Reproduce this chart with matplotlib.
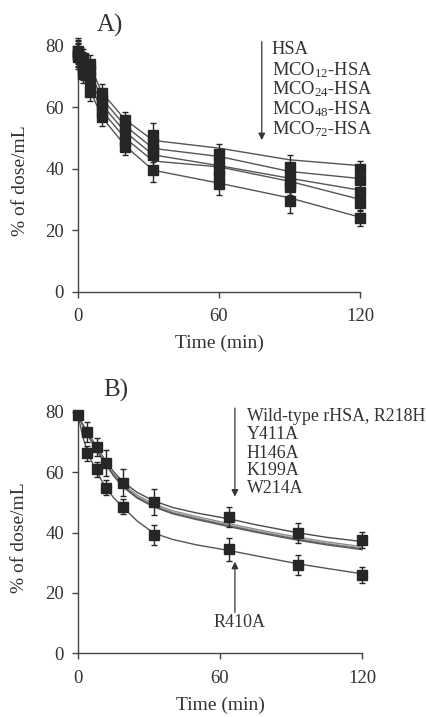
import matplotlib
matplotlib.use("Agg")
import matplotlib.pyplot as plt

plt.rcParams['font.family'] = ['Liberation Serif', 'DejaVu Serif']
plt.rcParams['mathtext.fontset'] = 'custom'
plt.rcParams['mathtext.rm'] = 'Liberation Serif'
plt.rcParams['mathtext.it'] = 'Liberation Serif:italic'

# ---------------- Panel A data ----------------
times_A = [0, 2, 5, 10, 20, 32, 60, 90, 120]
labels_A = ['HSA', 'MCO$_{12}$-HSA', 'MCO$_{24}$-HSA', 'MCO$_{48}$-HSA', 'MCO$_{72}$-HSA']
points_A = [
    [78.5, 76.0, 74.0, 64.5, 56.0, 51.0, 44.7, 40.5, 40.0],
    [78.0, 75.0, 72.0, 62.5, 54.0, 48.3, 42.0, 37.5, 36.2],
    [77.5, 73.0, 70.0, 60.5, 51.5, 46.2, 39.5, 35.5, 32.5],
    [77.0, 72.0, 68.0, 58.5, 49.0, 44.6, 37.5, 34.0, 28.9],
    [76.5, 71.0, 65.0, 57.0, 47.0, 39.7, 35.0, 29.5, 23.8],
]
lines_A = [
    [78.5, 76.0, 74.0, 65.0, 56.0, 49.2, 46.7, 42.9, 41.0],
    [78.0, 75.0, 72.0, 63.0, 54.0, 46.6, 44.0, 39.1, 36.8],
    [77.5, 73.0, 70.0, 61.0, 52.0, 44.5, 41.0, 36.9, 33.0],
    [77.0, 72.0, 68.0, 59.0, 50.0, 42.5, 40.6, 35.9, 30.0],
    [76.5, 71.0, 66.0, 57.0, 47.5, 39.5, 35.3, 30.5, 24.2],
]
err_A = [4.0, 3.0, 3.0, 3.0, 2.5, 4.0, 3.5, 4.0, 2.5]

# ---------------- Panel B data ----------------
times_B = [0, 4, 8, 12, 19, 32, 64, 93, 120]
wt_points_B = [79.0, 73.5, 68.3, 63.0, 56.5, 50.2, 45.2, 39.7, 37.5]
wt_err_B = [0.0, 3.3, 3.0, 4.4, 4.5, 4.4, 3.3, 3.3, 2.8]
r410_times_B = [4, 8, 12, 19, 32, 64, 93, 120]
r410_points_B = [66.3, 61.0, 54.9, 48.6, 39.2, 34.4, 29.2, 25.9]
r410_err_B = [2.5, 2.5, 2.5, 2.5, 3.3, 3.7, 3.3, 2.8]

fit_times_B = [0, 2, 4, 6, 8, 10, 12, 15, 19, 25, 32, 40, 50, 64, 75, 93, 105, 120]
fit_wt_B = [79.0, 76.0, 73.4, 70.8, 68.3, 65.8, 63.5, 60.2, 56.8, 53.3, 50.5, 48.3, 46.5, 44.5, 42.6, 39.9, 38.4, 37.0]
fit_y411_B = [79.0, 75.8, 73.0, 70.3, 67.8, 65.3, 63.0, 59.6, 56.0, 52.4, 49.5, 47.2, 45.3, 42.9, 41.1, 38.4, 36.9, 35.3]
fit_h146_B = [79.0, 75.7, 72.8, 70.1, 67.6, 65.1, 62.8, 59.3, 55.7, 52.0, 49.1, 46.8, 44.9, 42.5, 40.7, 38.0, 36.5, 34.9]
fit_k199_B = [79.0, 75.6, 72.7, 70.0, 67.4, 64.9, 62.6, 59.1, 55.4, 51.7, 48.8, 46.5, 44.6, 42.2, 40.4, 37.7, 36.2, 34.6]
fit_w214_B = [79.0, 75.5, 72.5, 69.8, 67.2, 64.7, 62.3, 58.8, 55.1, 51.4, 48.5, 46.2, 44.3, 41.9, 40.1, 37.4, 35.9, 34.3]
fit_r410_B = [79.0, 71.8, 66.8, 63.2, 60.2, 57.2, 54.7, 51.6, 48.4, 43.8, 39.8, 37.7, 35.9, 34.0, 32.3, 29.6, 28.1, 26.3]
labels_B = ['Wild-type rHSA, R218H', 'Y411A', 'H146A', 'K199A', 'W214A']

TXT = '#333333'
MK = '#262626'
LN = '#555555'

fig = plt.figure(figsize=(4.26, 7.17), dpi=100)


def style_axes(ax):
    ax.set_xlim(0, 120)
    ax.set_ylim(0, 80)
    ax.set_xticks([0, 60, 120])
    ax.set_yticks([0, 20, 40, 60, 80])
    for s in ['top', 'right']:
        ax.spines[s].set_visible(False)
    for s in ['left', 'bottom']:
        ax.spines[s].set_color('#444444')
        ax.spines[s].set_linewidth(1.0)
    ax.tick_params(direction='out', length=4, width=1.0, color='#444444',
                   labelcolor=TXT, labelsize=13.5, pad=6)
    ax.tick_params(axis='x', pad=8)
    ax.set_ylabel('% of dose/mL', fontsize=14, color=TXT)
    ax.set_xlabel('Time (min)', fontsize=14, color=TXT)


# ---------------- Panel A ----------------
axA = fig.add_axes([78 / 426, (717 - 291.5) / 717, 282 / 426, 245.6 / 717])
style_axes(axA)
for pts, ln in zip(points_A, lines_A):
    axA.plot(times_A, ln, color=LN, lw=1.0, clip_on=False, zorder=2)
    axA.errorbar(times_A, pts, yerr=err_A, fmt='s', ms=7, color=MK, mec=MK,
                 ecolor=MK, elinewidth=1.0, capsize=2, capthick=1.0,
                 clip_on=False, zorder=3)
axA.text(13.5, 86.5, 'A)', fontsize=18, color=TXT, ha='center', va='center')
axA.annotate('', xy=(78.2, 49.3), xytext=(78.2, 81.4),
             arrowprops=dict(arrowstyle='-|>', color='#333333', lw=0.9,
                             mutation_scale=10, shrinkA=0, shrinkB=0),
             annotation_clip=False)
for lab, yy in zip(labels_A, [78.7, 72.1, 65.9, 59.3, 52.8]):
    axA.text(82.4, yy, lab, fontsize=13.3, color=TXT, ha='left', va='center')
axA.yaxis.set_label_coords(-0.175, 0.45)
axA.xaxis.set_label_coords(0.5, -0.175)

# ---------------- Panel B ----------------
axB = fig.add_axes([78 / 426, (717 - 653) / 717, 284 / 426, 241 / 717])
style_axes(axB)
fits = [fit_wt_B, fit_y411_B, fit_h146_B, fit_k199_B, fit_w214_B]
fit_colors = ['#4a4a4a', '#8a8a8a', '#b0b0b0', '#6a6a6a', '#5a5a5a']
for f, c in zip(fits, fit_colors):
    axB.plot(fit_times_B, f, color=c, lw=1.0, zorder=2, clip_on=False)
axB.plot(fit_times_B, fit_r410_B, color=LN, lw=1.0, zorder=2, clip_on=False)
axB.errorbar(times_B, wt_points_B, yerr=wt_err_B, fmt='s', ms=7, color=MK,
             mec=MK, ecolor=MK, elinewidth=1.0, capsize=2, capthick=1.0,
             clip_on=False, zorder=3)
axB.errorbar(r410_times_B, r410_points_B, yerr=r410_err_B, fmt='s', ms=7,
             color=MK, mec=MK, ecolor=MK, elinewidth=1.0, capsize=2,
             capthick=1.0, clip_on=False, zorder=3)
axB.text(16, 87, 'B)', fontsize=18, color=TXT, ha='center', va='center')
axB.annotate('', xy=(66.3, 51.9), xytext=(66.3, 81.3),
             arrowprops=dict(arrowstyle='-|>', color='#333333', lw=0.9,
                             mutation_scale=10, shrinkA=0, shrinkB=0),
             annotation_clip=False)
for lab, yy in zip(labels_B, [78.4, 72.4, 66.3, 60.7, 54.7]):
    axB.text(71.3, yy, lab, fontsize=12.9, color=TXT, ha='left', va='center')
axB.annotate('', xy=(66.3, 30.3), xytext=(66.3, 13.5),
             arrowprops=dict(arrowstyle='-|>', color='#333333', lw=0.9,
                             mutation_scale=10, shrinkA=0, shrinkB=0),
             annotation_clip=False)
axB.text(68.4, 10.0, 'R410A', fontsize=13, color=TXT, ha='center', va='center')
axB.yaxis.set_label_coords(-0.175, 0.48)
axB.xaxis.set_label_coords(0.5, -0.18)

fig.savefig('out.png', dpi=100, facecolor='white')
